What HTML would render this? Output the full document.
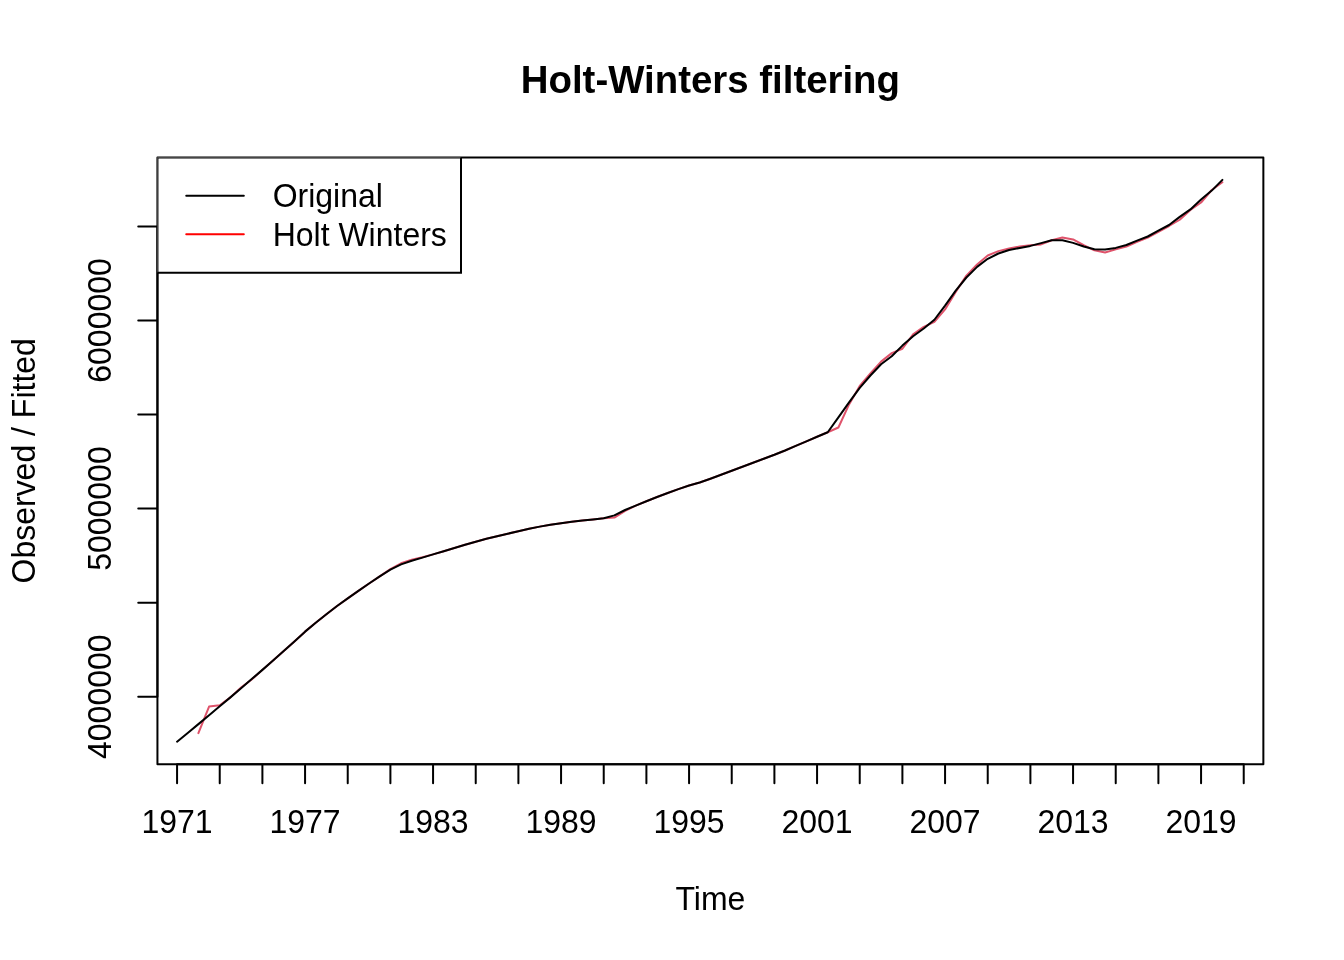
<!DOCTYPE html>
<html><head><meta charset="utf-8"><title>Holt-Winters filtering</title>
<style>
html,body{margin:0;padding:0;background:#fff;}
svg{display:block;}
text{font-family:"Liberation Sans",sans-serif;fill:#000;}
.t{font-size:32px;}
</style></head><body>
<svg width="1344" height="960" viewBox="0 0 1344 960">
<rect width="1344" height="960" fill="#fff"/>
<g fill="none" stroke-width="2" stroke-linecap="round" stroke-linejoin="round">
<polyline stroke="#DF536B" points="198.40,733.10 209.07,706.60 219.73,705.20 230.40,697.37 241.07,687.57 251.73,679.52 262.40,669.88 273.07,660.57 283.73,651.10 294.40,641.46 305.07,631.64 315.73,622.71 326.40,614.19 337.07,606.00 347.73,598.32 358.40,590.89 369.07,583.54 379.73,576.44 390.40,569.18 401.07,563.26 411.73,559.65 422.40,557.19 433.07,554.38 443.73,551.19 454.40,548.07 465.07,544.82 475.73,541.67 486.40,538.80 497.07,536.21 507.73,533.69 518.40,531.24 529.07,528.81 539.73,526.63 550.40,524.72 561.07,523.14 571.73,521.78 582.40,520.54 593.07,519.43 603.73,518.22 614.40,517.60 625.07,510.80 635.73,505.60 646.40,501.30 657.07,497.00 667.73,493.00 678.40,489.10 689.07,485.50 699.73,482.50 710.40,478.76 721.07,474.77 731.73,470.75 742.40,466.74 753.07,462.73 763.73,458.76 774.40,454.79 785.07,450.52 795.73,445.92 806.40,441.30 817.07,436.77 827.73,432.25 838.40,427.50 849.07,404.40 859.73,386.00 870.40,373.50 881.07,361.60 891.73,353.10 902.40,348.75 913.07,334.40 923.73,326.90 934.40,321.90 945.07,309.40 955.73,291.90 966.40,275.60 977.07,264.40 987.73,255.50 998.40,251.10 1009.07,248.50 1019.73,246.50 1030.40,245.25 1041.07,244.40 1051.73,240.25 1062.40,237.50 1073.07,239.40 1083.73,245.25 1094.40,250.30 1105.07,252.50 1115.73,249.40 1126.40,246.50 1137.07,241.90 1147.73,237.50 1158.40,231.90 1169.07,226.00 1179.73,219.75 1190.40,210.00 1201.07,202.50 1211.73,190.00 1222.40,182.25"/>
<g stroke="#000">
<rect x="157.44" y="157.44" width="1105.92" height="606.72"/>
<path d="M177.07,764.16H1243.73M177.07,764.16v19.2M219.73,764.16v19.2M262.40,764.16v19.2M305.07,764.16v19.2M347.73,764.16v19.2M390.40,764.16v19.2M433.07,764.16v19.2M475.73,764.16v19.2M518.40,764.16v19.2M561.07,764.16v19.2M603.73,764.16v19.2M646.40,764.16v19.2M689.07,764.16v19.2M731.73,764.16v19.2M774.40,764.16v19.2M817.07,764.16v19.2M859.73,764.16v19.2M902.40,764.16v19.2M945.07,764.16v19.2M987.73,764.16v19.2M1030.40,764.16v19.2M1073.07,764.16v19.2M1115.73,764.16v19.2M1158.40,764.16v19.2M1201.07,764.16v19.2M1243.73,764.16v19.2"/>
<path d="M157.44,696.7V226.4M157.44,696.7h-19.2M157.44,602.64h-19.2M157.44,508.58h-19.2M157.44,414.52h-19.2M157.44,320.46h-19.2M157.44,226.4h-19.2"/>
<polyline points="177.07,741.71 187.73,733.00 198.40,724.11 209.07,715.21 219.73,706.34 230.40,697.37 241.07,688.17 251.73,679.02 262.40,669.88 273.07,660.57 283.73,651.10 294.40,641.46 305.07,631.64 315.73,622.71 326.40,614.19 337.07,606.00 347.73,598.32 358.40,590.89 369.07,583.54 379.73,576.44 390.40,569.68 401.07,564.36 411.73,560.75 422.40,557.59 433.07,554.38 443.73,551.19 454.40,548.07 465.07,544.82 475.73,541.67 486.40,538.80 497.07,536.21 507.73,533.69 518.40,531.24 529.07,528.81 539.73,526.63 550.40,524.72 561.07,523.14 571.73,521.78 582.40,520.54 593.07,519.43 603.73,518.22 614.40,515.40 625.07,510.00 635.73,505.60 646.40,501.30 657.07,497.00 667.73,493.00 678.40,489.10 689.07,485.50 699.73,482.50 710.40,478.76 721.07,474.77 731.73,470.75 742.40,466.74 753.07,462.73 763.73,458.76 774.40,454.79 785.07,450.52 795.73,445.92 806.40,441.30 817.07,436.77 827.73,432.25 838.40,417.30 849.07,402.30 859.73,387.90 870.40,375.50 881.07,364.20 891.73,356.25 902.40,345.60 913.07,336.25 923.73,328.50 934.40,319.75 945.07,305.60 955.73,290.60 966.40,277.50 977.07,266.90 987.73,258.80 998.40,253.50 1009.07,250.00 1019.73,247.90 1030.40,245.90 1041.07,243.10 1051.73,240.25 1062.40,240.25 1073.07,242.90 1083.73,246.50 1094.40,249.20 1105.07,249.40 1115.73,247.90 1126.40,245.00 1137.07,240.60 1147.73,236.50 1158.40,230.60 1169.07,225.00 1179.73,216.90 1190.40,209.40 1201.07,199.40 1211.73,190.60 1222.40,179.90"/>
<rect x="157.44" y="157.44" width="303.56" height="115.2" fill="#fff" stroke="none"/>
<path fill="#000" stroke="none" d="M157.44,157.44H462V158.44H158.44V273.64H157.44Z"/>
<path stroke-linecap="butt" stroke-linejoin="miter" d="M461,157.44V272.64H157.44"/>
<path d="M186.24,195.84h57.6"/>
<path stroke="#FF0000" d="M186.24,234.24h57.6"/>
</g></g>
<text class="t" transform="translate(272.64,207.20) scale(1,1.02)">Original</text>
<text class="t" transform="translate(272.64,245.60) scale(1,1.02)">Holt Winters</text>
<text font-size="38.4" font-weight="bold" transform="translate(710.40,92.80) scale(1,1.03)" text-anchor="middle">Holt-Winters filtering</text>
<text class="t" transform="translate(710.40,910.08) scale(1,1.02)" text-anchor="middle">Time</text>
<text class="t" transform="translate(34.56,460.80) rotate(-90) scale(1,1.02)" text-anchor="middle">Observed / Fitted</text>
<text class="t" transform="translate(177.07,833.10) scale(1,1.05)" text-anchor="middle">1971</text>
<text class="t" transform="translate(305.07,833.10) scale(1,1.05)" text-anchor="middle">1977</text>
<text class="t" transform="translate(433.07,833.10) scale(1,1.05)" text-anchor="middle">1983</text>
<text class="t" transform="translate(561.07,833.10) scale(1,1.05)" text-anchor="middle">1989</text>
<text class="t" transform="translate(689.07,833.10) scale(1,1.05)" text-anchor="middle">1995</text>
<text class="t" transform="translate(817.07,833.10) scale(1,1.05)" text-anchor="middle">2001</text>
<text class="t" transform="translate(945.07,833.10) scale(1,1.05)" text-anchor="middle">2007</text>
<text class="t" transform="translate(1073.07,833.10) scale(1,1.05)" text-anchor="middle">2013</text>
<text class="t" transform="translate(1201.07,833.10) scale(1,1.05)" text-anchor="middle">2019</text>
<text class="t" transform="translate(111.36,696.70) rotate(-90) scale(1,1.05)" text-anchor="middle">4000000</text>
<text class="t" transform="translate(111.36,508.58) rotate(-90) scale(1,1.05)" text-anchor="middle">5000000</text>
<text class="t" transform="translate(111.36,320.46) rotate(-90) scale(1,1.05)" text-anchor="middle">6000000</text>
</svg></body></html>
